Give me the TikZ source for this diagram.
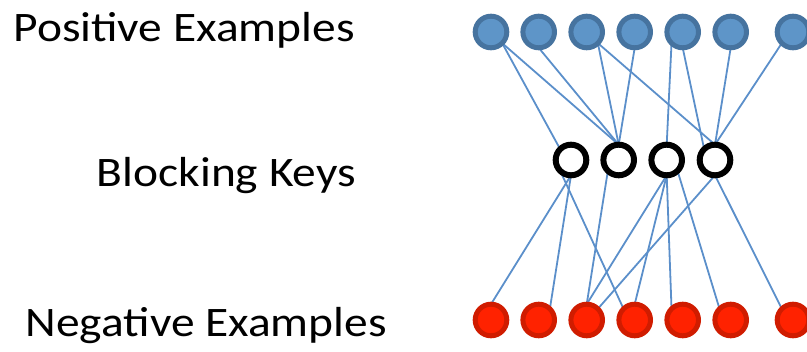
\documentclass[tikz,border=0pt]{standalone}
\usepackage{fontspec}
\setmainfont{Carlito}
\usepackage{tikz}
\usetikzlibrary{positioning,backgrounds}
\definecolor{posfill}{HTML}{5E95C8}
\definecolor{posframe}{HTML}{46739F}
\definecolor{negfill}{HTML}{FF2200}
\definecolor{negframe}{HTML}{D01C00}
\definecolor{linkcol}{HTML}{5B8FCA}

\begin{document}
\begin{tikzpicture}[x=1pt,y=1pt,
  posnode/.style={circle,draw=posframe,fill=posfill,line width=5pt,minimum size=31.6pt,inner sep=0pt,outer sep=0pt},
  negnode/.style={circle,draw=negframe,fill=negfill,line width=5pt,minimum size=31.6pt,inner sep=0pt,outer sep=0pt},
  keynode/.style={circle,draw=black,fill=white,line width=6pt,minimum size=30.6pt,inner sep=0pt,outer sep=0pt},
  lbl/.style={font=\fontsize{42}{46}\selectfont,xscale=1.13,inner sep=0pt,anchor=base east},
  link/.style={draw=linkcol,line width=1.8pt}]
\useasboundingbox (0,0) rectangle (807,352);
% row labels
\node[lbl] (poslbl) at (355,310) {Positive Examples};
\node[lbl] (keylbl) at (356,165) {Blocking Keys};
\node[lbl] (neglbl) at (387,15) {Negative Examples};
% examples and keys
\foreach \i/\x in {1/491,2/538.7,3/586.7,4/634.7,5/682.7,6/730.7,7/793} {
  \node[posnode] (p\i) at (\x,320) {};
  \node[negnode] (n\i) at (\x,32) {};
}
\foreach \i/\x in {1/571,2/618.7,3/666.7,4/715}
  \node[keynode] (k\i) at (\x,192) {};
% connections
\begin{pgfonlayer}{background}
\foreach \a/\b in {p1.south east/k1.north west,p1.south east/k2.north,p2.south/k2.north,
    p3.south east/k2.north,p3.south east/k4.north,p4.south/k2.north,p5.south west/k3.north,
    p5.south/k4.north west,p6.south/k4.north,p7.south west/k4.north}
  \draw[link] (\a) -- (\b);
\foreach \a/\b in {k1.south/n1.north,k1.south/n2.north east,k1.south west/n4.north west,
    k2.south west/n3.north,k3.south/n3.north,k3.south/n4.north,k4.south/n3.north east,
    k3.south/n5.north west,k3.south east/n6.north west,k4.south/n7.north west}
  \draw[link] (\a) -- (\b);
\end{pgfonlayer}
\end{tikzpicture}
\end{document}
